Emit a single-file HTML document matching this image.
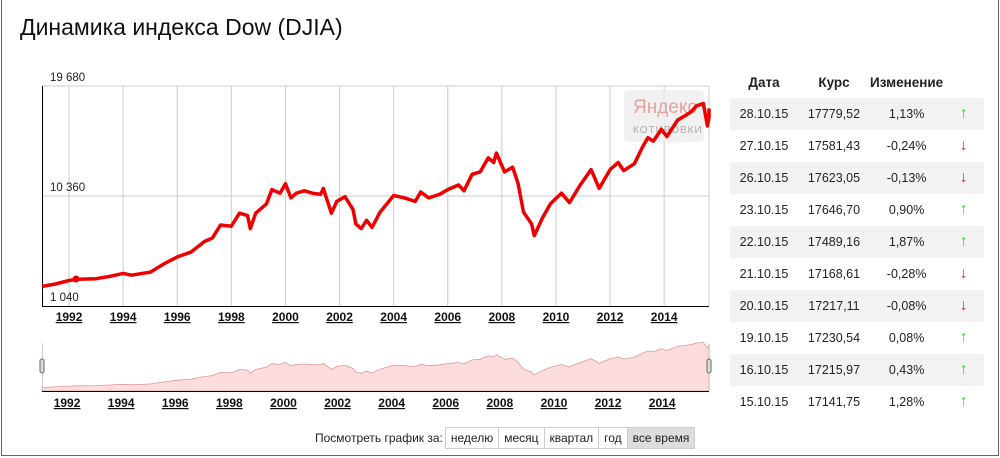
<!DOCTYPE html><html><head><meta charset="utf-8"><style>
body{margin:0;width:1000px;height:458px;background:#fff;font-family:"Liberation Sans",sans-serif;position:relative;overflow:hidden}
.frame{position:absolute;left:1px;top:0;width:996px;height:455px;border:1px solid #666;border-top:none}
h1{position:absolute;left:20px;top:14px;margin:0;font-weight:normal;font-size:23px;color:#111}
table{position:absolute;left:730px;top:66px;border-collapse:collapse;font-size:12.5px;color:#222}
td,th{height:32px;padding:0;text-align:center}
th{height:32px;font-size:13.5px}
tr.s td{background:#f2f2f2}
.u{color:#3c3;font-size:16px}.d{color:#c33;font-size:16px}
.btns{position:absolute;left:315px;top:427px;font-size:12px;color:#222;display:flex;align-items:center}
.btns span.b{border:1px solid #ccc;padding:3px 5px;margin-left:-1px;background:#fff}
</style></head><body><div class="frame"></div>
<h1>Динамика индекса Dow (DJIA)</h1>
<svg width="1000" height="458" style="position:absolute;left:0;top:0" id="s">
<g stroke="#ccc" stroke-width="1">
<line x1="42" y1="86" x2="709" y2="86"/><line x1="42" y1="196" x2="709" y2="196"/>
</g>
<g id="vg" stroke="#ccc"></g>
<line x1="42.5" y1="86" x2="42.5" y2="306" stroke="#000"/>
<line x1="42" y1="306.5" x2="709" y2="306.5" stroke="#000"/>
<rect x="624" y="90" width="80" height="52" rx="4" fill="#eee" opacity="0.8"/>
<text x="633" y="113" font-size="19" fill="#e9a0a0" font-family="Liberation Sans">Яндекс</text>
<text x="633" y="133" font-size="10" fill="#aaa" letter-spacing="1">КОТИРОВКИ</text>
<g font-size="11.5" fill="#222"><text x="50" y="81">19 680</text><text x="50" y="191">10 360</text><text x="50" y="301">1 040</text></g>
<path id="ln" fill="none" stroke="#e00" stroke-width="3.5" stroke-linejoin="round"/>
<circle cx="76" cy="279" r="3.5" fill="#e00"/>
<g id="yl" font-size="12" font-weight="bold" text-decoration="underline" text-anchor="middle" fill="#111"></g>
<path id="nav" fill="#fcdcdc" stroke="#d99" stroke-width="0.8"/>
<line x1="42" y1="391.5" x2="709" y2="391.5" stroke="#000"/>
<line x1="42.5" y1="343" x2="42.5" y2="391" stroke="#ccc"/>
<rect x="40" y="359" width="4" height="14" rx="2" fill="#ddd" stroke="#666"/>
<rect x="707" y="359" width="4" height="14" rx="2" fill="#ddd" stroke="#666"/>
<g id="yl2" font-size="12" font-weight="bold" text-decoration="underline" text-anchor="middle" fill="#111"></g>
</svg>
<table>
<tr><th style="width:68px">Дата</th><th style="width:72px">Курс</th><th style="width:72px">Изменение</th><th style="width:41px"></th></tr>
<tr class="s"><td>28.10.15</td><td>17779,52</td><td>1,13%</td><td class="u">↑</td></tr>
<tr><td>27.10.15</td><td>17581,43</td><td>-0,24%</td><td class="d">↓</td></tr>
<tr class="s"><td>26.10.15</td><td>17623,05</td><td>-0,13%</td><td class="d">↓</td></tr>
<tr><td>23.10.15</td><td>17646,70</td><td>0,90%</td><td class="u">↑</td></tr>
<tr class="s"><td>22.10.15</td><td>17489,16</td><td>1,87%</td><td class="u">↑</td></tr>
<tr><td>21.10.15</td><td>17168,61</td><td>-0,28%</td><td class="d">↓</td></tr>
<tr class="s"><td>20.10.15</td><td>17217,11</td><td>-0,08%</td><td class="d">↓</td></tr>
<tr><td>19.10.15</td><td>17230,54</td><td>0,08%</td><td class="u">↑</td></tr>
<tr class="s"><td>16.10.15</td><td>17215,97</td><td>0,43%</td><td class="u">↑</td></tr>
<tr><td>15.10.15</td><td>17141,75</td><td>1,28%</td><td class="u">↑</td></tr>
</table>
<div class="btns"><span style="margin-right:3px">Посмотреть график за:</span><span class="b">неделю</span><span class="b">месяц</span><span class="b">квартал</span><span class="b">год</span><span class="b" style="background:#ddd">все время</span></div>
<script>
var d=[[1991,2700],[1991.5,2900],[1992,3200],[1992.3,3300],[1993,3350],[1993.5,3550],[1994,3800],[1994.3,3650],[1995,3900],[1995.5,4600],[1996,5200],[1996.5,5600],[1997,6500],[1997.3,6800],[1997.6,7900],[1998,7800],[1998.3,8900],[1998.6,8700],[1998.7,7600],[1998.9,8900],[1999.3,9700],[1999.5,10900],[1999.8,10600],[2000,11400],[2000.2,10200],[2000.4,10600],[2000.7,10800],[2001,10600],[2001.3,10500],[2001.4,11000],[2001.7,8900],[2001.9,9900],[2002.2,10300],[2002.5,9200],[2002.6,8000],[2002.8,7600],[2003,8300],[2003.2,7700],[2003.5,9000],[2004,10400],[2004.4,10200],[2004.8,9900],[2005,10700],[2005.3,10200],[2005.7,10500],[2006,10900],[2006.4,11300],[2006.6,10800],[2006.9,12200],[2007.2,12400],[2007.5,13600],[2007.7,13200],[2007.8,14000],[2008.1,12400],[2008.4,12800],[2008.6,11400],[2008.8,9000],[2009.1,8000],[2009.2,7000],[2009.5,8500],[2009.8,9700],[2010.2,10600],[2010.5,9800],[2010.9,11300],[2011.3,12600],[2011.6,11000],[2012,12600],[2012.3,13200],[2012.5,12500],[2012.9,13100],[2013.2,14500],[2013.4,15300],[2013.6,15000],[2013.9,16000],[2014.1,15400],[2014.5,16800],[2014.8,17200],[2015,17500],[2015.2,18000],[2015.45,18200],[2015.6,16300],[2015.75,17000],[2015.83,17780]];
var X=y=>42+(y-1991)*27.05;
var p="";d.forEach((e,i)=>{var x=Math.min(X(e[0]),709);p+=(i?"L":"M")+x.toFixed(1)+","+(306-(e[1]-1040)/18640*220).toFixed(1)});
document.getElementById("ln").setAttribute("d",p);
var n="M42,391";d.forEach(e=>{var x=Math.min(X(e[0]),709);n+="L"+x.toFixed(1)+","+(391-(e[1]-1500)/17200*50).toFixed(1)});n+="L709,391Z";
document.getElementById("nav").setAttribute("d",n);
var vg="",yl="",yl2="";
for(var y=1992;y<=2014;y+=2){var x=X(y);vg+='<line x1="'+x+'" y1="86" x2="'+x+'" y2="306"/>';yl+='<text x="'+(x)+'" y="321">'+y+'</text>';yl2+='<text x="'+(x-2)+'" y="407">'+y+'</text>';}
vg+='<line x1="709" y1="86" x2="709" y2="306"/>';
document.getElementById("vg").innerHTML=vg;document.getElementById("yl").innerHTML=yl;document.getElementById("yl2").innerHTML=yl2;
</script>
</body></html>
